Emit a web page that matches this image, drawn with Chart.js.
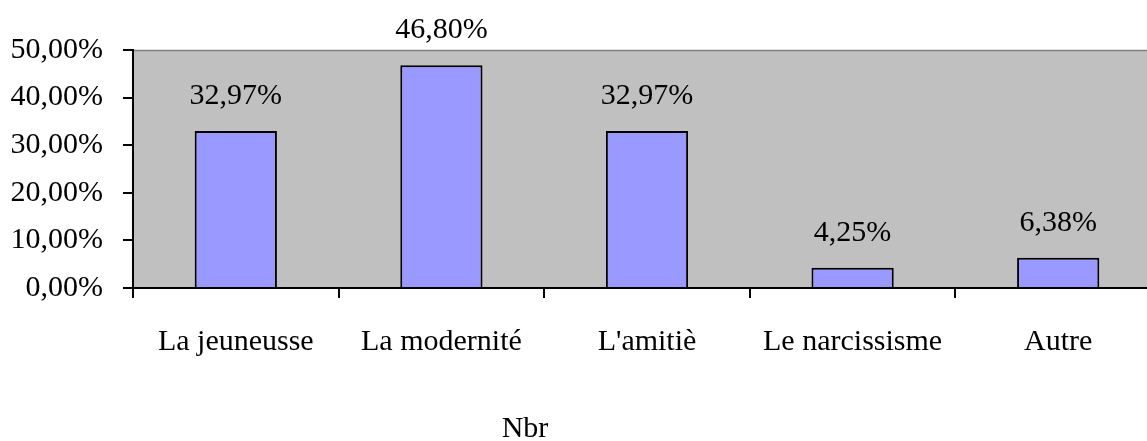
<!DOCTYPE html>
<html>
<head>
<meta charset="utf-8">
<script src="https://cdn.jsdelivr.net/npm/chart.js@4"></script>
<style>
  html, body { margin: 0; padding: 0; background: #fff; overflow: hidden; }
  #wrap { position: relative; width: 1170px; height: 441px; }
  #axisTitle {
    position: absolute; left: 0; width: 1050px; top: 410px;
    text-align: center; font: 30px "Liberation Serif", serif; color: #000;
  }
</style>
</head>
<body>
<div id="wrap">
  <canvas id="chart" width="1170" height="441"></canvas>
  <div id="axisTitle">Nbr</div>
</div>
<script>
const categories = ['La jeuneusse', 'La modernité', "L'amitiè", 'Le narcissisme', 'Autre'];
const values = [32.97, 46.80, 32.97, 4.25, 6.38];
const yTicks = [0, 10, 20, 30, 40, 50];

const fmt = v => v.toFixed(2).replace('.', ',') + '%';
const FONT = '"Liberation Serif", "Times New Roman", serif';

// gray plot background + top border line
const plotBg = {
    id: 'plotBg',
    beforeDraw(chart) {
        const { ctx, chartArea: a } = chart;
        ctx.save();
        ctx.fillStyle = '#C0C0C0';
        ctx.fillRect(a.left, a.top, a.right - a.left, a.bottom - a.top);
        ctx.strokeStyle = '#808080';
        ctx.lineWidth = 1.5;
        ctx.beginPath();
        ctx.moveTo(a.left, a.top + 0.5);
        ctx.lineTo(a.right, a.top + 0.5);
        ctx.stroke();
        ctx.restore();
    }
};

// value labels above bars
const barLabels = {
    id: 'barLabels',
    afterDatasetsDraw(chart) {
        const { ctx } = chart;
        const meta = chart.getDatasetMeta(0);
        ctx.save();
        ctx.font = '30px ' + FONT;
        ctx.fillStyle = '#000';
        ctx.textAlign = 'center';
        ctx.textBaseline = 'middle';
        meta.data.forEach((bar, i) => {
            ctx.fillText(fmt(values[i]), bar.x, bar.y - 35);
        });
        ctx.restore();
    }
};

new Chart(document.getElementById('chart'), {
    type: 'bar',
    data: {
        labels: categories,
        datasets: [{
            data: values,
            backgroundColor: '#9999FF',
            borderColor: '#000',
            borderWidth: 2,
            categoryPercentage: 1,
            barPercentage: 0.4
        }]
    },
    options: {
        responsive: false,
        animation: false,
        layout: { padding: { top: 50, left: 0, right: 9, bottom: 53 } },
        plugins: { legend: { display: false }, tooltip: { enabled: false } },
        scales: {
            x: {
                grid: { offset: true, drawOnChartArea: false, drawTicks: true, tickLength: 10, color: '#000', lineWidth: 2 },
                border: { color: '#000', width: 2 },
                ticks: { color: '#000', font: { family: FONT, size: 30 }, padding: 26, maxRotation: 0 },
                afterFit(s) { s.height = 100; }
            },
            y: {
                min: 0, max: 50,
                grid: { drawOnChartArea: false, drawTicks: true, tickLength: 10, color: '#000', lineWidth: 2 },
                border: { color: '#000', width: 2 },
                ticks: {
                    stepSize: 10, color: '#000', padding: 20,
                    font: { family: FONT, size: 30 },
                    callback: v => yTicks.includes(v) ? fmt(v) : ''
                },
                afterFit(s) { s.width = 133; }
            }
        }
    },
    plugins: [plotBg, barLabels]
});
</script>
</body>
</html>
